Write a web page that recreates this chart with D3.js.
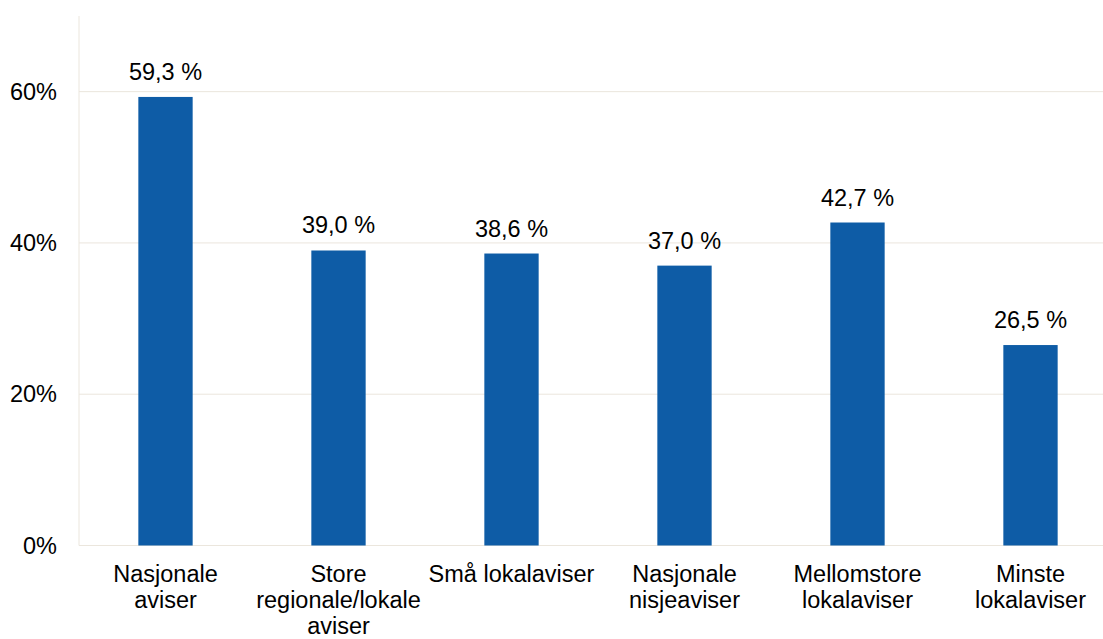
<!DOCTYPE html>
<html>
<head>
<meta charset="utf-8">
<script src="https://cdn.jsdelivr.net/npm/d3@7/dist/d3.min.js"></script>
<style>
html,body{margin:0;padding:0;background:#fff;}
svg{display:block;font-family:"Liberation Sans",Arial,sans-serif;}
</style>
</head>
<body>
<svg id="chart" width="1103" height="639"></svg>
<script>
const categories = ["Nasjonale\naviser", "Store\nregionale/lokale\naviser", "Små lokalaviser", "Nasjonale\nnisjeaviser", "Mellomstore\nlokalaviser", "Minste\nlokalaviser"];
const values = [59.3, 39.0, 38.6, 37.0, 42.7, 26.5];
const valueLabels = ["59,3 %", "39,0 %", "38,6 %", "37,0 %", "42,7 %", "26,5 %"];
const yTicks = [0, 20, 40, 60];
const yTickLabels = ["0%", "20%", "40%", "60%"];

(function () {
const svg = d3.select("#chart");
const mLeft = 79, mRight = 1117, mTop = 16, mBottom = 545.5;
const fs = 23.5;

const x = d3.scaleBand().domain(categories).range([mLeft, mRight]).paddingInner(0.686).paddingOuter(0.343);
const y = d3.scaleLinear().domain([0, 70]).range([mBottom, mTop]);

// gridlines
svg.append("g").selectAll("line").data(yTicks).join("line")
  .attr("x1", mLeft).attr("x2", 1103)
  .attr("y1", d => y(d)).attr("y2", d => y(d))
  .attr("stroke", "#ebe6dd").attr("stroke-width", 1);

// y axis line
svg.append("line").attr("x1", mLeft).attr("x2", mLeft).attr("y1", mTop).attr("y2", mBottom)
  .attr("stroke", "#ebe6dd").attr("stroke-width", 1);

// y tick labels
svg.append("g").selectAll("text").data(yTicks).join("text")
  .attr("x", 57).attr("y", d => y(d)).attr("dy", "0.35em")
  .attr("text-anchor", "end").attr("font-size", fs).attr("fill", "#000")
  .text((d, i) => yTickLabels[i]);

// bars
svg.append("g").selectAll("rect").data(values).join("rect")
  .attr("x", (d, i) => x(categories[i]))
  .attr("width", x.bandwidth())
  .attr("y", d => y(d))
  .attr("height", d => y(0) - y(d))
  .attr("fill", "#0e5ca6");

// value labels
svg.append("g").selectAll("text").data(values).join("text")
  .attr("x", (d, i) => x(categories[i]) + x.bandwidth() / 2)
  .attr("y", d => y(d) - 17)
  .attr("text-anchor", "middle").attr("font-size", fs).attr("fill", "#000")
  .text((d, i) => valueLabels[i]);

// category labels
const cl = svg.append("g").selectAll("text").data(categories).join("text")
  .attr("x", d => x(d) + x.bandwidth() / 2)
  .attr("y", 582)
  .attr("text-anchor", "middle").attr("font-size", fs).attr("fill", "#000");
cl.each(function(d) {
  const t = d3.select(this);
  const cx = x(d) + x.bandwidth() / 2;
  d.split("\n").forEach((line, i) => {
    t.append("tspan").attr("x", cx).attr("dy", i === 0 ? 0 : 26).text(line);
  });
});
})();
</script>
</body>
</html>
